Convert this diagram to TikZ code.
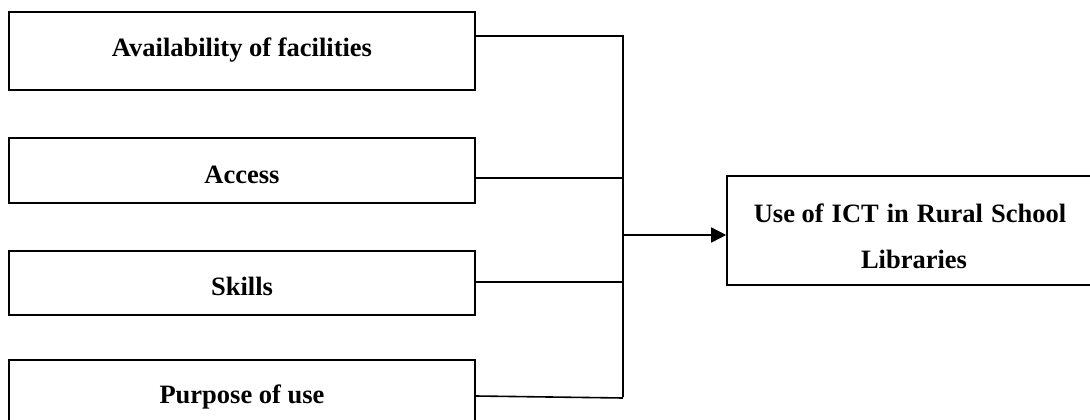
\documentclass[tikz,border=0pt]{standalone}
\usepackage{fontspec}
\setmainfont{Liberation Serif}
\usetikzlibrary{arrows.meta}
\begin{document}
\begin{tikzpicture}[x=1pt,y=-1pt,
  box/.style={draw=black,line width=1.6pt,rectangle,inner sep=0pt,minimum width=466pt},
  lbl/.style={anchor=base,inner sep=0pt,font=\fontsize{26.5pt}{30pt}\selectfont\bfseries},
  conn/.style={draw=black,line width=1.6pt}]
\useasboundingbox (0,0) rectangle (1090,420);
\node[box,minimum height=78pt] (b1) at (242,51) {};
\node[box,minimum height=65pt] (b2) at (242,170.5) {};
\node[box,minimum height=64pt] (b3) at (242,283) {};
\node[box,minimum height=64pt] (b4) at (242,392) {};
\node[box,minimum width=400pt,minimum height=109pt] (r) at (927,230.5) {};
\node[lbl] (t1) at (242,57) {Availability of facilities};
\node[lbl] (t2) at (242,183) {Access};
\node[lbl] (t3) at (242,295) {Skills};
\node[lbl] (t4) at (242,403) {Purpose of use};
\node[lbl] (tr1) at (910,222) {Use of\hspace{0.3em}ICT\hspace{0.3em}in\hspace{0.3em}Rural\hspace{0.3em}School};
\node[lbl] (tr2) at (914,268) {Libraries};
\coordinate (bt) at (623,36);
\coordinate (bb) at (623,396);
\coordinate (bm) at (623,235);
\coordinate (e4) at (623,398);
\draw[conn,line cap=rect] (bt) -- (bb);
\draw[conn] (b1.east |- bt) -- (bt);
\draw[conn] (b2.east |- 0,178) -- (623,178);
\draw[conn] (b3.east |- 0,282) -- (623,282);
\draw[conn] (b4.east |- 0,396) -- (e4);
\draw[conn,-{Triangle[length=15pt,width=15pt]}] (bm) -- (r.west |- bm);
\end{tikzpicture}
\end{document}
